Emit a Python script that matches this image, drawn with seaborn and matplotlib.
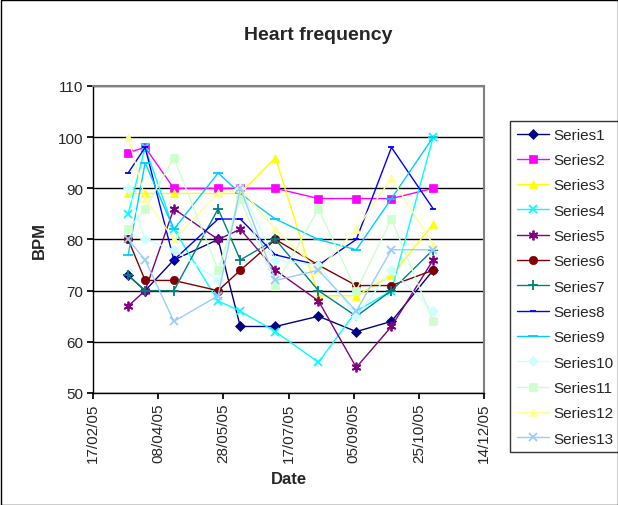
import numpy as np
import pandas as pd
import matplotlib
matplotlib.use("Agg")
import matplotlib.pyplot as plt
import matplotlib.dates as mdates
import seaborn as sns

dates = ["2005-03-16", "2005-03-29", "2005-04-20", "2005-05-24", "2005-06-10",
         "2005-07-07", "2005-08-09", "2005-09-07", "2005-10-04", "2005-11-05"]

series1 = [73, 70, 76, 80, 63, 63, 65, 62, 64, 74]
series2 = [97, 98, 90, 90, 90, 90, 88, 88, 88, 90]
series3 = [89, 89, 89, 89, 89, 96, 69, 69, 73, 83]
series4 = [85, 98, 82, 68, 66, 62, 56, 66, 70, 100]
series5 = [67, 70, 86, 80, 82, 74, 68, 55, 63, 76]
series6 = [80, 72, 72, 70, 74, 80, 75, 71, 71, 74]
series7 = [73, 70, 70, 86, 76, 80, 70, 65, 70, 78]
series8 = [93, 98, 76, 84, 84, 77, 75, 80, 98, 86]
series9 = [77, 95, 82, 93, 89, 84, 80, 78, 88, 100]
series10 = [90, 80, 78, 72, 90, 76, 75, 65, 74, 66]
series11 = [82, 86, 96, 74, 88, 71, 86, 70, 84, 64]
series12 = [100, 88, 80, 89, 90, 82, 74, 82, 92, 79]
series13 = [80, 76, 64, 69, 90, 72, 74, 66, 78, 78]

names = [f"Series{i}" for i in range(1, 14)]
values = [series1, series2, series3, series4, series5, series6, series7,
          series8, series9, series10, series11, series12, series13]
yticks = [50, 60, 70, 80, 90, 100, 110]
xtick_labels = ["17/02/05", "08/04/05", "28/05/05", "17/07/05", "05/09/05", "25/10/05", "14/12/05"]

colors = ["#000080", "#FF00FF", "#FFFF00", "#00FFFF", "#800080", "#800000", "#008080",
          "#0000FF", "#00CCFF", "#CCFFFF", "#CCFFCC", "#FFFF99", "#99CCFF"]
asterisk = (6, 2, 0)
markers = ["D", "s", "^", "x", asterisk, "o", "+", "_", "_", "D", "s", "^", "x"]
msizes = [5, 6, 6, 6, 7, 6, 7, 5, 7, 5, 6, 6, 6]

sns.set_theme(style="white")
plt.rcParams['font.family'] = ['Liberation Sans', 'DejaVu Sans']

fig = plt.figure(figsize=(6.18, 5.06), dpi=100)
ax = fig.add_axes([93/618, 1 - 394/506, (484-93)/618, (394-87)/506])

x = pd.to_datetime(dates)
for name, vals, c, m, ms in zip(names, values, colors, markers, msizes):
    df = pd.DataFrame({"Date": x, "BPM": vals})
    mew = 1.3 if m in ("x", "+", "_", asterisk) else 0.5
    sns.lineplot(data=df, x="Date", y="BPM", ax=ax, color=c, marker=m, markersize=ms,
                 markeredgecolor=c, markerfacecolor=c, markeredgewidth=mew,
                 linewidth=1.0, label=name, estimator=None, sort=False)

xt = pd.to_datetime(xtick_labels, format="%d/%m/%y")
ax.set_xlim(xt[0], xt[-1])
ax.set_xticks(xt)
ax.set_xticklabels(xtick_labels, rotation=90, fontsize=11)
ax.set_ylim(50, 110)
ax.set_yticks(yticks)
ax.set_yticklabels([str(v) for v in yticks], fontsize=11)
ax.yaxis.grid(True, color="black", linewidth=1.0)
ax.xaxis.grid(False)
ax.tick_params(axis="x", direction="out", length=4, color="black", pad=3, bottom=True)
ax.tick_params(axis="y", direction="out", length=4, color="black", pad=3, left=True)
for s in ["top", "right"]:
    ax.spines[s].set_color("#808080")
    ax.spines[s].set_linewidth(1.5)
for s in ["left", "bottom"]:
    ax.spines[s].set_color("black")
    ax.spines[s].set_linewidth(1.0)

ax.set_xlabel("Date", fontsize=12, fontweight="bold", labelpad=6)
ax.set_ylabel("BPM", fontsize=12, fontweight="bold", labelpad=8)
fig.text(318/618, 1 - 35/506, "Heart frequency", ha="center", va="center",
         fontsize=14, fontweight="bold")

leg = ax.legend(loc="upper left", bbox_to_anchor=(510/618, 1 - 122/506),
                bbox_transform=fig.transFigure, frameon=True, fancybox=False,
                fontsize=11, handlelength=2.1, labelspacing=0.74, borderpad=0.45,
                handletextpad=0.3, borderaxespad=0)
leg.get_frame().set_edgecolor("black")
leg.get_frame().set_linewidth(1.0)

border = plt.Rectangle((0.5/618, 0.5/506), 1 - 1/618, 1 - 1/506, transform=fig.transFigure,
                       fill=False, edgecolor="black", linewidth=1.0)
fig.patches.append(border)

fig.savefig("out.png", dpi=100)
